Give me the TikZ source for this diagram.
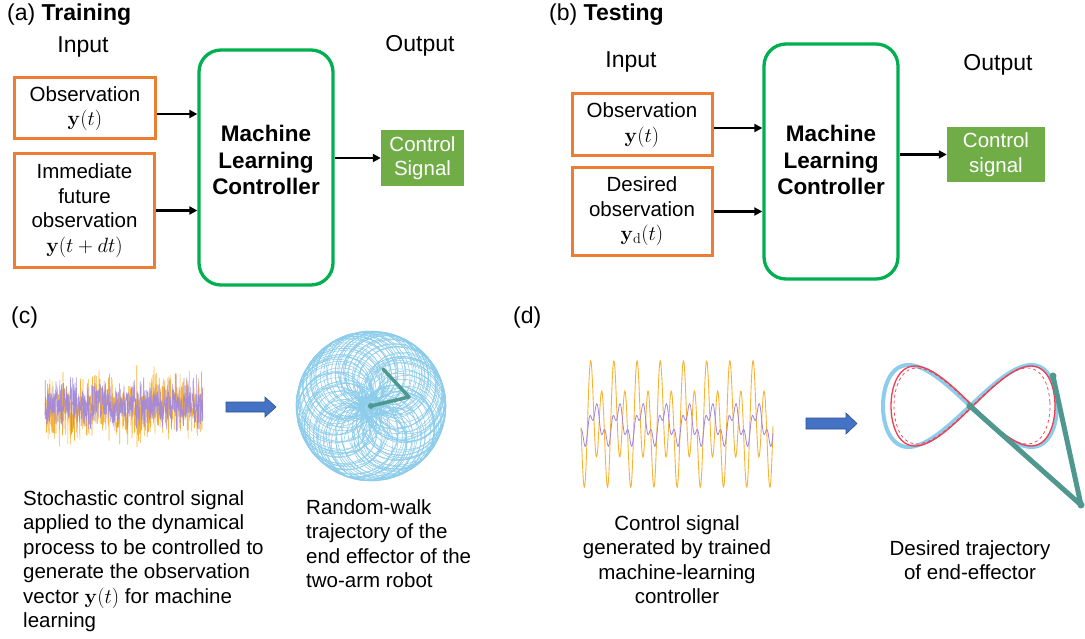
\documentclass[tikz,border=0pt]{standalone}
\usepackage[no-math]{fontspec}
\setmainfont{Liberation Sans}
\usepackage{amsmath}
\usetikzlibrary{arrows.meta,positioning}
\definecolor{BoxOrange}{HTML}{ED7D31}
\definecolor{CtrlGreen}{HTML}{00B050}
\definecolor{SignalGreen}{HTML}{70AD47}
\definecolor{ArrowBlue}{HTML}{4472C4}
\definecolor{ArrowEdge}{HTML}{2F528F}
\definecolor{TrajBlue}{HTML}{8DCDEB}
\definecolor{ArmTeal}{HTML}{4F9890}
\definecolor{WaveOrange}{HTML}{F9B233}
\definecolor{WavePurple}{HTML}{9F86E0}
\definecolor{TrackRed}{HTML}{F23B4E}
\newcommand{\bodyfont}{\fontsize{20.5bp}{24.5bp}\selectfont}
\newcommand{\headfont}{\fontsize{23bp}{27bp}\selectfont}
\newcommand{\mlfont}{\fontsize{22.5bp}{26.5bp}\selectfont\bfseries}
\tikzset{flow/.style={-{Triangle[length=8bp,width=8bp]},line width=2.2bp}}

\begin{document}
\begin{tikzpicture}[x=1bp,y=-1bp]
		\tikzstyle{Obs}=[rectangle,draw=BoxOrange,line width=3bp,inner sep=0pt]
		\tikzstyle{Ctrl}=[rectangle,rounded corners=22bp,draw=CtrlGreen,line width=3.3bp,minimum width=134bp,minimum height=235bp,inner sep=0pt]
		\tikzstyle{Sig}=[rectangle,fill=SignalGreen,inner sep=0pt,text=white,align=center,font=\bodyfont]
		\tikzstyle{Txt}=[inner sep=0pt,align=center,font=\bodyfont]
		\tikzstyle{Head}=[inner sep=0pt,font=\headfont]
		\tikzstyle{Big}=[fill=ArrowBlue,draw=ArrowEdge,line width=0.6bp,line join=miter]
		\tikzstyle{Arm}=[ArmTeal,line cap=round,line join=round]

		\def\per{15.52}

		\useasboundingbox (0,0) rectangle (1085,639);

		% (a) training
		\node [Head,anchor=west] (TitleA) at (7,15) {(a) \textbf{Training}};
		\node [Head] (InA) at (83,47) {Input};
		\node [Head] (OutA) at (420,46) {Output};
		\node [Obs,minimum width=140bp,minimum height=61bp] (ObsA) at (85,108.5) {};
		\node [Txt] at (ObsA.center) {Observation\\$\mathbf{y}(t)$};
		\node [Obs,minimum width=139bp,minimum height=113bp] (FutA) at (84.5,210.5) {};
		\node [Txt] at (FutA.center) {Immediate\\future\\observation\\$\mathbf{y}(t+dt)$};
		\node [Ctrl] (MLA) at (266,167.5) {};
		\node [Txt,font=\mlfont] at ([yshift=7.5bp]MLA.center) {Machine\\Learning\\Controller};
		\node [Sig,minimum width=83bp,minimum height=56bp] (CtrlA) at (422.5,158) {Control\\Signal};

		% (b) testing
		\node [Head,anchor=west] (TitleB) at (549,15) {(b) \textbf{Testing}};
		\node [Head] (InB) at (631,62) {Input};
		\node [Head] (OutB) at (998,65) {Output};
		\node [Obs,minimum width=140bp,minimum height=62bp] (ObsB) at (642,125) {};
		\node [Txt] at (ObsB.center) {Observation\\$\mathbf{y}(t)$};
		\node [Obs,minimum width=140bp,minimum height=87bp] (DesB) at (642,211.5) {};
		\node [Txt] at (DesB.center) {Desired\\observation\\$\mathbf{y}_{\mathrm{d}}(t)$};
		\node [Ctrl] (MLB) at (831,161.5) {};
		\node [Txt,font=\mlfont] at ([yshift=1.5bp]MLB.center) {Machine\\Learning\\Controller};
		\node [Sig,minimum width=98bp,minimum height=55bp] (CtrlB) at (996,154.5) {Control\\signal};

		\foreach \src/\dst/\dy in {ObsA/MLA/-5.5, FutA/MLA/0, ObsB/MLB/-3, DesB/MLB/0}
			\draw [flow] ([yshift=\dy bp]\src.east) -- ([yshift=\dy bp]\src.east -| \dst.west);
		\foreach \src/\dst in {MLA/CtrlA, MLB/CtrlB}
			\draw [flow] (\src.east |- \dst.west) -- (\dst.west);

		% (c) random excitation
		\node [Head,anchor=west] (TitleC) at (11,318) {(c)};
		\pgfmathsetseed{7}
		\draw [WaveOrange,line width=0.55bp] plot[domain=45:203,samples=650] (\x,{407+16*(rand+rand+rand)});
		\draw [WavePurple,line width=0.55bp,opacity=0.9] plot[domain=45:203,samples=650] (\x,{405+12*(rand+rand+rand)});
		\coordinate (ArrowC) at (226,407);
		\draw [Big] (ArrowC) ++(0,-5) -- ++(39,0) -- ++(0,-5) -- ++(11,10) -- ++(-11,10) -- ++(0,-5) -- ++(-39,0) -- cycle;
		\foreach \k/\ph in {8.3/0, 6.7/40, 7.6/110}
			\draw [TrajBlue,line width=0.55bp] plot[domain=0:1800,samples=1200]
				({371+(38+5*sin(0.53*\x+\ph))*cos(\x+\ph)+(37-5*sin(0.53*\x+\ph))*cos(\k*\x+\ph)},
				 {406+(38+5*sin(0.53*\x+\ph))*sin(\x+\ph)+(37-5*sin(0.53*\x+\ph))*sin(\k*\x+\ph)});
		\coordinate (BaseC) at (371,406);
		\coordinate (ElbowC) at (409,397);
		\coordinate (TipC) at (383,369);
		\draw [Arm,line width=3.5bp] (BaseC) -- (ElbowC) -- (TipC);
		\fill [ArmTeal] (BaseC) circle (3bp);
		\node [Txt,align=left,anchor=north west] (NoteC1) at (23,490) {Stochastic control signal\\applied to the dynamical\\process to be controlled to\\generate the observation\\vector $\mathbf{y}(t)$ for machine\\learning};
		\node [Txt,align=left,anchor=north west] (NoteC2) at (306,499) {Random-walk\\trajectory of the\\end effector of the\\two-arm robot};

		% (d) trained controller
		\node [Head,anchor=west] (TitleD) at (513,318) {(d)};
		\draw [WaveOrange,line width=0.9bp] plot[domain=581:773,samples=500,smooth]
			(\x,{424-47.5*(sin(2*((\x-590.4)*\per+45))+0.45*sin((\x-590.4)*\per+45))});
		\draw [WavePurple,line width=0.8bp] plot[domain=581:773,samples=500,smooth]
			(\x,{425-15*sin((\x-590.4)*\per+15)-8*sin(3*((\x-590.4)*\per+45))});
		\coordinate (ArrowD) at (806,423.5);
		\draw [Big] (ArrowD) ++(0,-5.5) -- ++(40,0) -- ++(0,-5) -- ++(11,10.5) -- ++(-11,10.5) -- ++(0,-5) -- ++(-40,0) -- cycle;
		\draw [TrajBlue,line width=4bp] plot[domain=0:360,samples=120,smooth cycle] ({970+87*cos(\x)},{406-82*sin(\x)*cos(\x)});
		\draw [TrackRed,line width=1.3bp] plot[domain=0:360,samples=120,smooth cycle] ({973+82*cos(\x)},{406-80*sin(\x)*cos(\x)});
		\draw [TrackRed,line width=0.7bp,dashed] plot[domain=0:360,samples=120,smooth cycle] ({972+78*cos(\x)},{406-76*sin(\x)*cos(\x)});
		\coordinate (BaseD) at (970,406);
		\coordinate (ElbowD) at (1081,505);
		\coordinate (TipD) at (1053,376);
		\draw [Arm,line width=5bp] (BaseD) -- (ElbowD) -- (TipD);
		\foreach \p in {BaseD,ElbowD,TipD}
			\fill [ArmTeal] (\p) circle (3.5bp);
		\node [Txt,anchor=north] (NoteD1) at (677,515) {Control signal\\generated by trained\\machine-learning\\controller};
		\node [Txt,anchor=north] (NoteD2) at (970,540) {Desired trajectory\\of end-effector};
\end{tikzpicture}
\end{document}
